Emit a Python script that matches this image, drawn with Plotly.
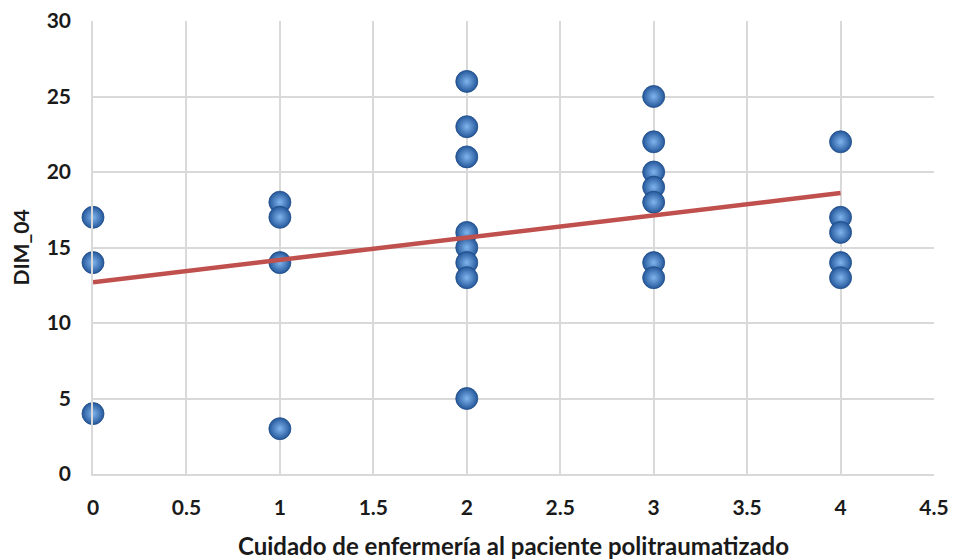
import numpy as np
import plotly.graph_objects as go

# Scores of DIM_04 grouped by nursing-care level
care_level = [0, 0, 0,
              1, 1, 1, 1,
              2, 2, 2, 2, 2, 2, 2, 2,
              3, 3, 3, 3, 3, 3, 3,
              4, 4, 4, 4, 4]
dim_04 = [17, 14, 4,
          18, 17, 14, 3,
          26, 23, 21, 16, 15, 14, 13, 5,
          25, 22, 20, 19, 18, 14, 13,
          22, 17, 16, 14, 13]

x_ticks = [0, 0.5, 1, 1.5, 2, 2.5, 3, 3.5, 4, 4.5]
y_ticks = [0, 5, 10, 15, 20, 25, 30]

# Least-squares trend line
slope, intercept = np.polyfit(care_level, dim_04, 1)
trend_x = [min(care_level), max(care_level)]
trend_y = [intercept + slope * v for v in trend_x]

font_family = "Lato, Open Sans, sans-serif"
text_color = "#1a1a1a"
grid_color = "#d9d9d9"

fig = go.Figure()

fig.add_trace(go.Scatter(
    x=care_level, y=dim_04, mode="markers", cliponaxis=False,
    marker=dict(size=22, color="#24579a",
                gradient=dict(type="radial", color="#7fb5ee"),
                line=dict(width=0.8, color="#1e4a85")),
    hoverinfo="x+y", showlegend=False,
))

fig.add_trace(go.Scatter(
    x=trend_x, y=trend_y, mode="lines", cliponaxis=False,
    line=dict(color="#c0504d", width=4.5),
    hoverinfo="skip", showlegend=False,
))

fig.update_layout(
    width=955, height=560,
    margin=dict(l=93, r=21, t=21, b=86),
    paper_bgcolor="white", plot_bgcolor="white",
    font=dict(family=font_family, color=text_color),
    xaxis=dict(
        range=[0, 4.5], tickvals=x_ticks,
        ticktext=[f"{v:g}" for v in x_ticks],
        automargin=False,
        showgrid=True, gridcolor=grid_color, gridwidth=1.5,
        zeroline=False, showline=True, linecolor=grid_color, linewidth=1.5,
        ticks="", tickfont=dict(size=21, family=font_family, weight="bold"),
        ticklabelstandoff=14,
        title=dict(text="Cuidado de enfermería al paciente politraumatizado",
                   font=dict(size=24, weight="bold"), standoff=20),
    ),
    yaxis=dict(
        range=[0, 30], tickvals=y_ticks,
        automargin=False,
        showgrid=True, gridcolor=grid_color, gridwidth=1.5,
        zeroline=False, showline=True, linecolor=grid_color, linewidth=1.5,
        ticks="", tickfont=dict(size=21, family=font_family, weight="bold"),
        ticklabelstandoff=16,
        title=dict(text="DIM_04", font=dict(size=21, weight="bold"), standoff=11),
    ),
)

fig.write_html("out.html")
